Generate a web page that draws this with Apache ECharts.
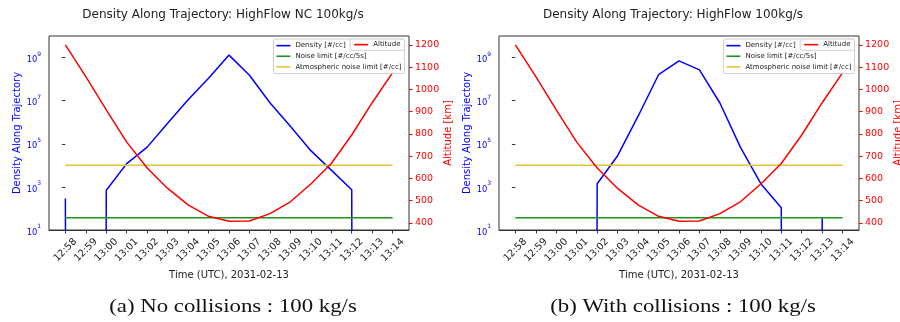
<!DOCTYPE html>
<html>
<head>
<meta charset="utf-8">
<script src="https://cdn.jsdelivr.net/npm/echarts@6/dist/echarts.min.js"></script>
<style>
  html, body { margin: 0; padding: 0; background: #fff; }
  #chart { width: 900px; height: 322px; }
</style>
</head>
<body>
<div id="chart"></div>
<script>
// Sample times along the pass (UTC, 2031-02-13), one per minute
const times = ['12:58', '12:59', '13:00', '13:01', '13:02', '13:03', '13:04', '13:05', '13:06',
               '13:07', '13:08', '13:09', '13:10', '13:11', '13:12', '13:13', '13:14'];

// Spacecraft altitude [km]
const altitude = [1200, 1057, 908, 763, 647, 555, 481, 430, 408, 409, 442, 495, 575, 667, 795, 940, 1075];

// Plume density seen along the trajectory [#/cc]
const densityNoCollisions = [290, 0, 700, 1.2e4, 7e4, 9e5, 1.1e7, 1.1e8, 1.3e9, 1.5e8, 8e6, 6.5e5, 4.8e4, 6e3, 740, 0, 0];
const densityCollisions   = [0, 0, 0, 0, 1.4e3, 2.8e4, 1.9e6, 1.6e8, 7e8, 2.7e8, 7.8e6, 7e4, 1.4e3, 107, 0, 35, 0];

// Instrument thresholds
const noiseLimit = 37;        // [#/cc/5s]
const atmosphericLimit = 1e4; // [#/cc]

// Axis ticks
const densityTicks = [1e1, 1e3, 1e5, 1e7, 1e9];
const altitudeTicks = [400, 500, 600, 700, 800, 900, 1000, 1100, 1200];

const panelTitles = ['Density Along Trajectory: HighFlow NC 100kg/s', 'Density Along Trajectory: HighFlow 100kg/s'];
const panelCaptions = ['(a) No collisions : 100 kg/s', '(b) With collisions : 100 kg/s'];
const panelDensity = [densityNoCollisions, densityCollisions];

const NAMES = {
  density: 'Density [#/cc]',
  noise: 'Noise limit [#/cc/5s]',
  atmos: 'Atmospheric noise limit [#/cc]',
  alt: 'Altitude'
};
const COLORS = { density: '#0000ff', noise: '#1f931f', atmos: '#e2c43c', alt: '#ff0000' };

// Zero counts cannot sit on a log axis: send them far below the floor so the
// trace drops straight down to the axis and is cut by the plot area.
const BELOW_LOG_FLOOR = Number.MIN_VALUE;

function toMinutes(s) { const p = s.split(':').map(Number); return p[0] * 60 + p[1]; }
const t0 = toMinutes(times[0]);
const xs = times.map(t => toMinutes(t) - t0);
const span = xs[xs.length - 1] - xs[0];
const xMargin = span * 0.05;
const altMin = Math.min(...altitude), altMax = Math.max(...altitude);
const altMargin = (altMax - altMin) * 0.05;

const FONT = 'DejaVu Sans';
const INK = '#222';

const grids = [], xAxes = [], yAxes = [], series = [], legends = [], graphics = [];

for (let i = 0; i < 2; i++) {
  const off = 450 * i;
  grids.push({
    left: 49 + off, top: 36, width: 360, height: 194,
    show: true, borderColor: '#333', borderWidth: 1, backgroundColor: '#fff',
    containLabel: false, outerBoundsMode: 'none'
  });

  xAxes.push({
    gridIndex: i, type: 'value',
    min: xs[0] - xMargin, max: xs[xs.length - 1] + xMargin,
    axisLine: { show: true, lineStyle: { color: '#333', width: 1 } },
    axisTick: { show: true, customValues: xs, length: 3.5, lineStyle: { color: '#333' } },
    axisLabel: {
      customValues: xs, rotate: 45, align: 'center', verticalAlign: 'middle', margin: 20,
      fontSize: 9.8, color: INK, fontFamily: FONT,
      formatter: v => times[xs.indexOf(Math.round(v))] || ''
    },
    splitLine: { show: false },
    name: 'Time (UTC), 2031-02-13', nameLocation: 'middle', nameGap: 33,
    nameTextStyle: { fontSize: 10, color: INK, fontFamily: FONT }
  });

  yAxes.push({
    gridIndex: i, type: 'log', logBase: 10, min: 1e1, max: 1e10, position: 'left',
    axisLine: { show: false },
    axisTick: { show: true, customValues: densityTicks, length: 3.5, lineStyle: { color: '#333' } },
    axisLabel: {
      customValues: densityTicks, margin: 8, color: COLORS.density, fontFamily: FONT,
      formatter: v => '{b|10}{s|' + Math.round(Math.log10(v)) + '}',
      rich: {
        b: { fontSize: 8.3, color: COLORS.density, fontFamily: FONT, verticalAlign: 'bottom', lineHeight: 13 },
        s: { fontSize: 6, color: COLORS.density, fontFamily: FONT, verticalAlign: 'top', lineHeight: 13 }
      }
    },
    splitLine: { show: false },
    name: 'Density Along Trajectory', nameLocation: 'middle', nameRotate: 90, nameGap: 27,
    nameTextStyle: { fontSize: 10, color: COLORS.density, fontFamily: FONT }
  });

  yAxes.push({
    gridIndex: i, type: 'value', min: altMin - altMargin, max: altMax + altMargin, position: 'right',
    axisLine: { show: false },
    axisTick: { show: true, customValues: altitudeTicks, length: 3.5, lineStyle: { color: COLORS.alt } },
    axisLabel: {
      customValues: altitudeTicks, margin: 6, fontSize: 9.5, color: COLORS.alt, fontFamily: FONT,
      formatter: v => String(Math.round(v))
    },
    splitLine: { show: false },
    name: 'Altitude [km]', nameLocation: 'middle', nameRotate: 90, nameGap: 29,
    nameTextStyle: { fontSize: 10, color: COLORS.alt, fontFamily: FONT }
  });

  const dens = panelDensity[i];
  const common = { type: 'line', xAxisIndex: i, symbol: 'none', showSymbol: false, clip: true, animation: false, silent: true };
  series.push(Object.assign({}, common, {
    name: NAMES.density, yAxisIndex: 2 * i, z: 2, color: COLORS.density,
    lineStyle: { color: COLORS.density, width: 1.5 },
    data: xs.map((x, k) => [x, dens[k] > 0 ? dens[k] : BELOW_LOG_FLOOR])
  }));
  series.push(Object.assign({}, common, {
    name: NAMES.noise, yAxisIndex: 2 * i, z: 2, color: COLORS.noise,
    lineStyle: { color: COLORS.noise, width: 1.5 },
    data: xs.map(x => [x, noiseLimit])
  }));
  series.push(Object.assign({}, common, {
    name: NAMES.atmos, yAxisIndex: 2 * i, z: 2, color: COLORS.atmos,
    lineStyle: { color: COLORS.atmos, width: 1.5 },
    data: xs.map(x => [x, atmosphericLimit])
  }));
  series.push(Object.assign({}, common, {
    name: NAMES.alt, yAxisIndex: 2 * i + 1, z: 3, color: COLORS.alt,
    lineStyle: { color: COLORS.alt, width: 1.5 },
    data: xs.map((x, k) => [x, altitude[k]])
  }));

  const legendBase = {
    orient: 'vertical', right: 900 - 404.5 - off, top: 39,
    icon: 'rect', itemWidth: 14, itemHeight: 1.6, itemGap: 2.3,
    selectedMode: false,
    backgroundColor: 'rgba(255,255,255,0.85)', borderColor: '#cfcfcf', borderWidth: 1, borderRadius: 2,
    textStyle: { fontSize: 7, color: INK, fontFamily: FONT, lineHeight: 8.3 }
  };
  legends.push(Object.assign({}, legendBase, {
    data: [NAMES.density, NAMES.noise, NAMES.atmos], padding: [2.5, 3, 2.5, 3], z: 6
  }));
  legends.push(Object.assign({}, legendBase, {
    data: [NAMES.alt], padding: [1.5, 4, 1.5, 4], z: 7
  }));

  graphics.push({
    type: 'text', x: 223 + off, y: 15, silent: true,
    style: { text: panelTitles[i], fill: INK, font: '12px "DejaVu Sans"', align: 'center', verticalAlign: 'middle' }
  });
  graphics.push({
    type: 'text', x: 233 + off, y: 307, scaleX: 1.2, silent: true,
    style: { text: panelCaptions[i], fill: '#111', font: '19px "Liberation Serif"', align: 'center', verticalAlign: 'middle' }
  });
}

const chart = echarts.init(document.getElementById('chart'), null, { renderer: 'canvas' });
chart.setOption({
  animation: false,
  backgroundColor: '#fff',
  textStyle: { fontFamily: FONT },
  grid: grids,
  xAxis: xAxes,
  yAxis: yAxes,
  legend: legends,
  series: series,
  graphic: graphics
});
</script>
</body>
</html>
